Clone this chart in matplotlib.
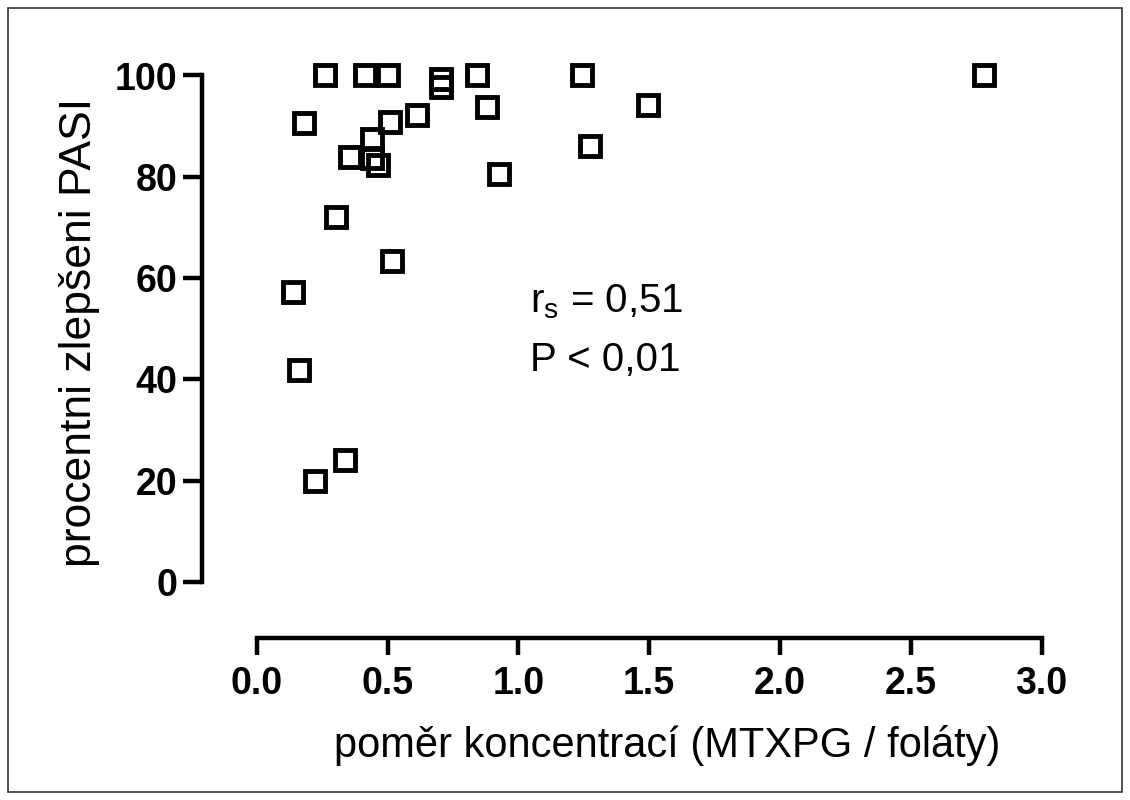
import matplotlib
matplotlib.use("Agg")
import matplotlib.pyplot as plt
from matplotlib.patches import Rectangle

plt.rcParams['font.family'] = ['Liberation Sans', 'DejaVu Sans']

ratio = [0.261, 0.414, 0.502, 0.705, 0.705, 0.842, 0.880, 1.243, 1.495, 2.779,
         0.181, 0.509, 0.613, 0.441, 0.357, 0.441, 0.464, 0.926, 1.274,
         0.303, 0.517, 0.139, 0.162, 0.337, 0.223]
improvement = [100, 100, 100, 99.3, 97.8, 100, 93.8, 100, 94.2, 100,
               90.6, 90.9, 92.2, 87.5, 84.0, 83.7, 82.3, 80.6, 86.0,
               72.0, 63.4, 57.3, 41.8, 24.0, 20.0]

xticks = [0.0, 0.5, 1.0, 1.5, 2.0, 2.5, 3.0]
xticklabels = ["0.0", "0.5", "1.0", "1.5", "2.0", "2.5", "3.0"]
yticks = [0, 20, 40, 60, 80, 100]

W, H = 1130, 800
# pixel geometry of the axes box
L, R, T, B = 202, 1041.5, 75.5, 638
fig = plt.figure(figsize=(W / 100, H / 100), dpi=100)
ax = fig.add_axes([L / W, 1 - B / H, (R - L) / W, (B - T) / H])

ax.plot(ratio, improvement, linestyle='none', marker='s', markersize=15,
        markerfacecolor='none', markeredgecolor='black', markeredgewidth=3.5,
        clip_on=False)

ax.set_xlim(-(256.7 - L) / 261.6, 3.0)
ax.set_ylim(-(B - 582) / 5.065, 100)

for s in ['top', 'right']:
    ax.spines[s].set_visible(False)
ax.spines['left'].set_bounds(0, 100)
ax.spines['bottom'].set_bounds(0, 3)
for s in ['left', 'bottom']:
    ax.spines[s].set_linewidth(3.2)
    ax.spines[s].set_capstyle('projecting')

ax.set_xticks(xticks)
ax.set_xticklabels(xticklabels)
ax.set_yticks(yticks)
ax.tick_params(axis='x', length=12, width=3.2, labelsize=27, pad=8)
ax.tick_params(axis='y', length=13.5, width=3.2, labelsize=27, pad=4)
for lab in ax.get_xticklabels() + ax.get_yticklabels():
    lab.set_fontweight('bold')

ax.set_xlabel("poměr koncentrací (MTXPG / foláty)", fontsize=30)
ax.set_ylabel("procentni zlepšeni PASI", fontsize=32)
ax.xaxis.set_label_coords((667 - L) / (R - L), (B - 745) / (B - T))
ax.yaxis.set_label_coords((80 - L) / (R - L), (B - 332) / (B - T))
ax.xaxis.label.set_va('center')
ax.yaxis.label.set_va('center')

ax.text(530 / W, 1 - 302 / H, r"r$_\mathregular{s}$ = 0,51", transform=fig.transFigure,
        fontsize=29, va='center', ha='left')
ax.text(530 / W, 1 - 360 / H, "P < 0,01", transform=fig.transFigure,
        fontsize=29, va='center', ha='left')

fig.patches.append(Rectangle((8 / W, 8 / H), (W - 16) / W, (H - 16) / H,
                             transform=fig.transFigure, fill=False,
                             edgecolor='#333333', linewidth=1.2))

fig.savefig("out.png", dpi=100, facecolor='white')
